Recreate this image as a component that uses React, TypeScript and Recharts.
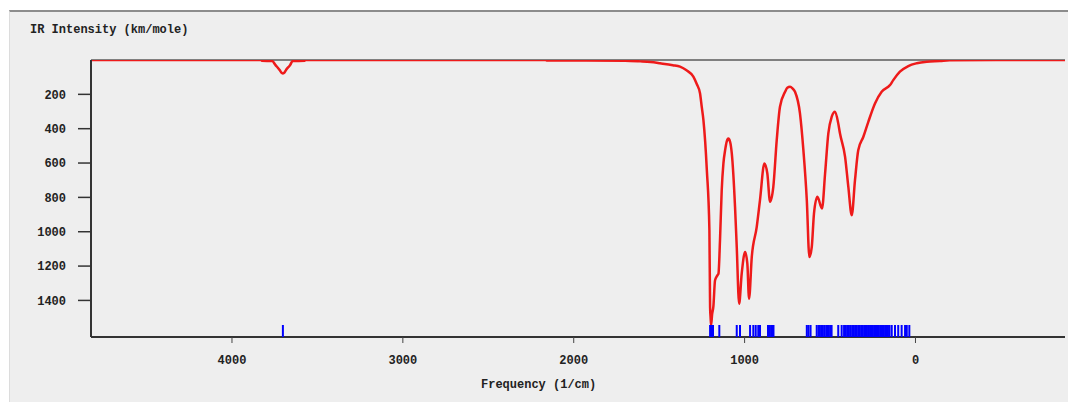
import { ComposedChart, Line, Scatter, XAxis, YAxis, ReferenceLine } from 'recharts'

// IR spectrum (broadened), frequency in 1/cm, intensity in km/mole
const spectrumFreq = [
    4825, 3830, 3825, 3765, 3745, 3720, 3712, 3702, 3692, 3685, 3660, 3645, 3575, 3570,
    2165, 2155, 1700, 1610, 1550, 1495, 1420, 1378, 1340, 1300, 1280, 1261,
    1251, 1241, 1221, 1206, 1202, 1199, 1196, 1190, 1183, 1173, 1160, 1153, 1144,
    1134, 1124, 1114, 1105, 1095, 1085, 1075, 1056, 1046, 1032, 1017, 997, 984, 974, 958,
    929, 910, 884, 867, 851, 832, 812, 793, 763, 750, 734, 720, 705, 676,
    656, 636, 621, 607, 594, 574, 547, 529, 510, 490, 471, 452, 442, 412,
    393, 373, 354, 335, 305, 276, 237, 198, 149, 130, 91, 42,
    -7, -66, -143, -200, -600, -875,
]
const spectrumIntensity = [
    0, 0, 5, 6, 30, 60, 72, 78, 72, 60, 30, 6, 5, 0,
    0, 3, 4, 8, 12, 19, 30, 39, 60, 97, 140, 194,
    272, 350, 641, 991, 1438, 1500, 1545, 1480, 1438, 1283, 1255, 1244, 1050,
    758, 602, 525, 476, 457, 476, 544, 855, 1089, 1419, 1244, 1118, 1186, 1390, 1147,
    972, 816, 602, 661, 826, 739, 466, 272, 185, 162, 156, 165, 185, 311,
    525, 816, 1147, 1089, 894, 797, 865, 661, 427, 330, 301, 369, 427, 564,
    739, 904, 700, 525, 447, 360, 253, 185, 146, 117, 68, 35,
    19, 10, 6, 2, 0, 0,
]

// calculated vibrational modes (stick positions)
const stickFreqs = [
    3702,
    1202, 1193, 1185, 1148,
    1046, 1027, 968, 949, 935, 920, 910,
    863, 854, 845, 837, 831,
    636, 626, 614,
    578, 567, 559, 547, 535, 523, 512, 500, 491,
    452, 432, 418, 407, 395, 383, 371, 360, 348, 336, 325, 313, 301,
    291, 284, 275, 266, 257, 249, 240, 231, 222, 214, 205, 196, 187, 178, 170, 161, 152,
    139, 120, 101, 81, 61, 51, 36,
]

const xTicks = [4000, 3000, 2000, 1000, 0]
const yTicks = [200, 400, 600, 800, 1000, 1200, 1400]
const X_DOMAIN: [number, number] = [-875, 4825]
const Y_MAX = 1613

const spectrum = spectrumFreq.map((freq, i) => ({ freq, ir: spectrumIntensity[i] }))
const sticks = stickFreqs.map((freq) => ({ freq, base: Y_MAX }))

const FONT = "'Liberation Mono', 'DejaVu Sans Mono', monospace"
const tickStyle = { fontSize: 12, fontWeight: 700, fill: '#222', fontFamily: FONT }

const StickShape = ({ cx, cy }: any) => (
    <line x1={cx} x2={cx} y1={cy - 12} y2={cy} stroke="#0000ff" strokeWidth={2} />
)

export default function App() {
    return (
        <div style={{ position: 'absolute', left: 0, top: 0, width: 1068, height: 402, background: '#fff' }}>
            <div
                style={{
                    position: 'absolute', left: 9, top: 10, width: 1059, height: 392,
                    background: '#eeeeee', borderTop: '2px solid #8c8c8c', borderLeft: '1px solid #dcdcdc',
                    boxSizing: 'border-box',
                }}
            />
            <div style={{ position: 'absolute', left: 30, top: 23, fontFamily: FONT, fontWeight: 700, fontSize: 12, color: '#222', lineHeight: '14px' }}>
                IR Intensity (km/mole)
            </div>
            <div style={{ position: 'absolute', left: 481, top: 378, fontFamily: FONT, fontWeight: 700, fontSize: 12, color: '#222', lineHeight: '14px' }}>
                Frequency (1/cm)
            </div>
            <div style={{ position: 'absolute', left: 0, top: 0 }}>
                <ComposedChart width={1068} height={402} margin={{ top: 60, right: 3, bottom: 0, left: 0 }}>
                    <XAxis
                        type="number" dataKey="freq" domain={X_DOMAIN} reversed allowDataOverflow
                        ticks={xTicks} tick={tickStyle} tickSize={6} tickMargin={12} height={65}
                        axisLine={{ stroke: '#333', strokeWidth: 2 }} tickLine={{ stroke: '#444', strokeWidth: 1 }}
                    />
                    <YAxis
                        type="number" domain={[0, Y_MAX]} reversed allowDataOverflow
                        ticks={yTicks} tick={tickStyle} tickSize={13} tickMargin={12} width={91}
                        axisLine={{ stroke: '#333', strokeWidth: 2 }} tickLine={{ stroke: '#333', strokeWidth: 1.5 }}
                    />
                    <ReferenceLine y={0} stroke="#111" strokeWidth={1} />
                    <Scatter data={sticks} dataKey="base" shape={<StickShape />} isAnimationActive={false} />
                    <Line
                        data={spectrum} dataKey="ir" type="monotone" stroke="#ee1a1a" strokeWidth={2.5}
                        dot={false} activeDot={false} isAnimationActive={false}
                    />
                </ComposedChart>
            </div>
        </div>
    )
}
